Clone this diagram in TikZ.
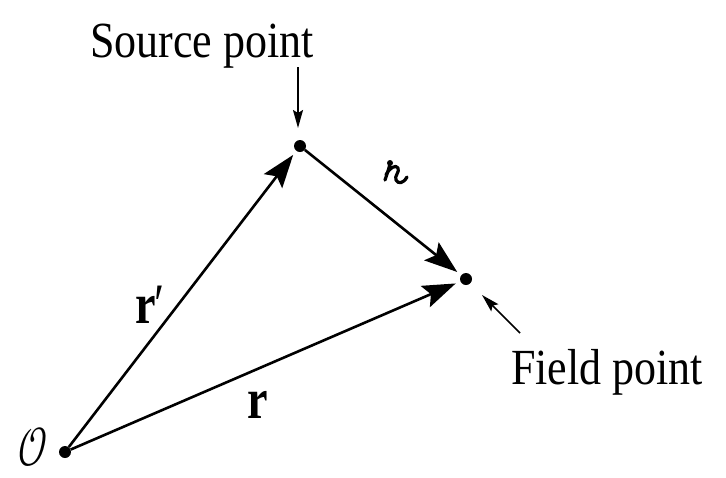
\documentclass[tikz,border=0pt]{standalone}
\usepackage{fontspec}
\usepackage{unicode-math}
\usepackage{graphicx}
\setmainfont{Liberation Serif}
\setmathfont{Latin Modern Math}
\usetikzlibrary{arrows.meta}
\newcommand{\vstretch}[1]{\scalebox{1}[1.15]{#1}}
\begin{document}
\begin{tikzpicture}[x=1pt,y=-1pt,
  pt/.style={circle, fill=black, inner sep=0pt, minimum size=12pt},
  vec/.style={line width=2.6pt, -{Stealth[length=33pt,width=23pt,inset=6pt]}, shorten >=5pt},
  pointer/.style={line width=1.6pt, -{Stealth[length=18pt,width=10pt,inset=3pt]}},
  lbl/.style={font=\fontsize{44}{50}\selectfont, inner sep=0pt},
  glyph/.style={line width=3.2pt, line cap=round, line join=round}]
\useasboundingbox (0,0) rectangle (726,477);
\node[pt] (O) at (65,452) {};
\node[pt] (S) at (300,146) {};
\node[pt] (F) at (466,279) {};
\draw[vec] (O) -- (S);
\draw[vec] (O) -- (F);
\draw[vec] (S) -- (F);
\node[lbl, anchor=base] (srcl) at (202,57) {\vstretch{Source point}};
\node[lbl, anchor=base west] (fldl) at (511,384) {\vstretch{Field point}};
\node[lbl] (ol) at (33,447) {\scalebox{0.95}[1.25]{$\mathcal{O}$}};
\node[lbl] (rpl) at (150,305) {\scalebox{1.05}[1.3]{\textbf{r}\kern-1pt′}};
\node[lbl] (rl) at (258,405) {\scalebox{1.05}[1.3]{\textbf{r}}};
% script r (Griffiths' separation vector symbol)
\coordinate (scl) at (394,173);
\fill (390,163) circle (3pt);
\draw[glyph] (390,163) .. controls (389,169) and (387,174) .. (385,180);
\draw[glyph] (386,175) .. controls (389,168) and (396,164) .. (398,168)
  .. controls (400,172) and (394,176) .. (396,180)
  .. controls (398,184) and (403,184) .. (407,177);
\coordinate (sa) at (298,67);
\coordinate (sb) at (298,128);
\draw[pointer] (sa) -- (sb);
\coordinate (fa) at (520,333);
\coordinate (fb) at (482,295);
\draw[pointer] (fa) -- (fb);
\end{tikzpicture}
\end{document}
